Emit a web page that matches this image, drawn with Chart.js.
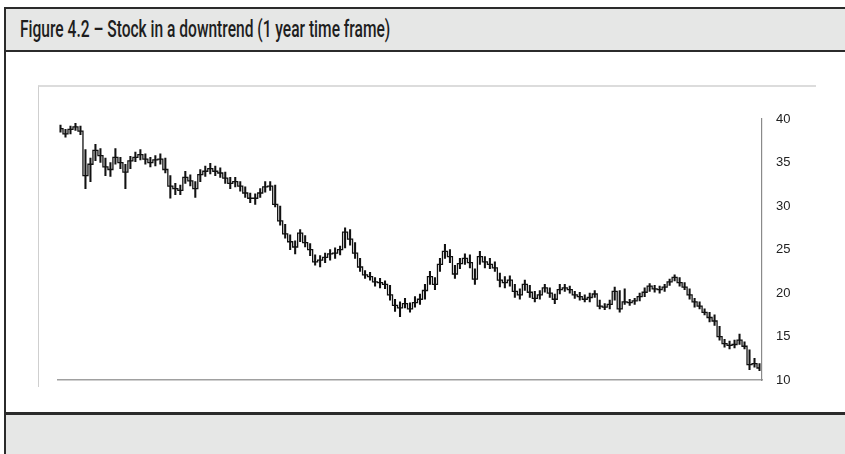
<!DOCTYPE html>
<html>
<head>
<meta charset="utf-8">
<script src="https://cdn.jsdelivr.net/npm/chart.js@4"></script>
<style>
  html, body { margin: 0; padding: 0; background: #fff; width: 845px; height: 454px; overflow: hidden; }
  #frame { position: absolute; left: 4px; top: 7px; width: 900px; height: 460px; border-left: 2px solid #2b2b2b; border-top: 2px solid #2b2b2b; }
  #head { position: absolute; left: 0; top: 0; right: 0; height: 41px; background: #e6e7e6; border-bottom: 2px solid #2b2b2b; }
  #head span { position: absolute; left: 14px; top: 6px; white-space: nowrap; transform-origin: 0 0; font-family: Roboto, "DejaVu Sans", sans-serif; font-weight: 500; font-size: 24px; color: #1e1e1e; }
  #foot { position: absolute; left: 0; top: 403px; right: 0; height: 60px; background: #e6e7e6; border-top: 3px solid #2b2b2b; }
  #box { position: absolute; left: 38px; top: 85px; width: 777px; height: 300px; border-left: 1px solid #cfcfcf; border-top: 2px solid #dcdcdc; }
  #wrap { position: absolute; left: 38px; top: 85px; width: 800px; height: 309px; }
</style>
</head>
<body>
<div id="frame">
  <div id="head"><span id="title">Figure 4.2 – Stock in a downtrend (1 year time frame)</span></div>
  <div id="foot"></div>
</div>
<div id="box"></div>
<div id="wrap"><canvas id="chart" width="800" height="309"></canvas></div>
<script>
// daily-ish bars over one year
const closes = [
  38.9, 38.3, 38.8, 39.1, 38.6, 33.5, 34.8, 36.4, 35.8, 34.5,
  34.2, 35.6, 35.0, 33.9, 35.2, 35.6, 35.9, 35.4, 35.0, 35.3,
  35.4, 34.2, 32.3, 32.0, 31.8, 33.3, 32.9, 32.0, 33.6, 34.0,
  34.3, 34.0, 33.8, 33.2, 32.6, 32.8, 32.3, 31.5, 30.9, 30.9,
  31.5, 32.2, 32.3, 30.2, 28.3, 26.8, 25.9, 25.3, 26.9, 25.8,
  25.0, 23.6, 23.8, 24.1, 24.5, 24.6, 25.0, 27.0, 26.2, 24.6,
  23.0, 22.1, 21.9, 21.3, 21.2, 21.0, 19.8, 18.6, 18.3, 18.8,
  18.2, 18.9, 19.3, 20.3, 21.9, 21.0, 23.3, 24.8, 24.2, 22.2,
  23.4, 24.0, 23.5, 21.6, 24.2, 23.6, 23.3, 22.9, 21.5, 21.2,
  21.5, 20.2, 19.8, 21.0, 20.1, 19.4, 19.8, 20.6, 20.0, 19.3,
  20.4, 20.6, 20.4, 19.8, 19.6, 19.3, 19.5, 19.9, 18.5, 18.4,
  18.7, 20.2, 18.2, 19.0, 18.9, 19.1, 19.6, 20.1, 20.8, 20.5,
  20.4, 20.7, 21.3, 21.8, 21.2, 20.7, 19.8, 19.0, 18.5, 17.8,
  17.2, 16.8, 15.0, 14.2, 14.0, 14.1, 14.6, 13.9, 11.8, 11.9,
  11.4
];
const highs = [
  39.3, 38.8, 39.2, 39.5, 39.2, 36.5, 35.5, 37.1, 36.6, 35.5,
  35.0, 36.6, 35.6, 34.8, 35.7, 36.2, 36.5, 36.0, 35.6, 35.8,
  36.0, 35.5, 33.5, 32.6, 32.4, 34.0, 33.6, 32.8, 34.2, 34.6,
  34.9, 34.6, 34.4, 33.9, 33.3, 33.3, 32.8, 32.2, 31.5, 31.4,
  32.0, 32.8, 32.8, 32.4, 30.0, 27.9, 26.7, 26.0, 27.3, 26.6,
  25.7, 24.4, 24.3, 24.6, 25.0, 25.2, 25.4, 27.5, 27.3, 25.8,
  24.0, 22.6, 22.4, 21.8, 21.7, 21.4, 20.9, 19.3, 19.0, 19.4,
  18.9, 19.6, 19.9, 21.0, 22.5, 21.8, 24.0, 25.6, 25.0, 23.2,
  24.0, 24.5, 24.4, 22.8, 24.8, 24.2, 24.0, 23.6, 22.3, 21.9,
  22.0, 21.0, 20.5, 21.5, 20.9, 20.2, 20.3, 21.0, 20.6, 19.9,
  21.0, 21.0, 20.8, 20.2, 20.1, 19.8, 20.0, 20.3, 19.2, 18.8,
  19.2, 20.7, 20.3, 20.5, 19.3, 19.4, 20.0, 20.6, 21.1, 20.9,
  20.8, 21.0, 21.6, 22.1, 21.8, 21.2, 20.5, 19.4, 19.0, 18.2,
  17.8, 17.5, 16.2, 14.7, 14.5, 14.6, 15.3, 14.4, 13.5, 12.5,
  11.9
];
const lows = [
  38.5, 37.9, 38.3, 38.7, 38.2, 32.0, 32.8, 35.2, 35.0, 33.5,
  33.4, 34.8, 34.3, 32.0, 34.3, 35.1, 35.3, 34.8, 34.5, 34.6,
  34.8, 33.8, 30.9, 31.3, 31.3, 32.6, 32.3, 31.0, 32.8, 33.4,
  33.7, 33.5, 33.3, 32.6, 32.0, 32.2, 31.7, 31.0, 30.4, 30.2,
  31.0, 31.6, 31.8, 29.9, 27.8, 26.3, 25.0, 24.5, 25.9, 25.3,
  24.3, 23.2, 23.0, 23.5, 23.8, 24.0, 24.4, 25.2, 25.5, 24.0,
  22.5, 21.7, 21.5, 20.8, 20.6, 20.5, 19.2, 17.9, 17.3, 18.3,
  17.8, 18.4, 18.7, 19.3, 21.0, 20.4, 22.5, 24.0, 23.5, 21.7,
  22.8, 23.3, 22.9, 21.0, 23.3, 22.9, 22.8, 22.5, 20.7, 20.6,
  20.8, 19.5, 19.3, 20.3, 19.5, 19.0, 19.3, 20.1, 19.5, 18.8,
  19.9, 20.2, 20.0, 19.4, 19.2, 19.0, 19.0, 19.5, 18.2, 18.1,
  18.2, 19.2, 17.8, 18.7, 18.6, 18.7, 19.1, 19.6, 20.2, 20.1,
  20.0, 20.2, 20.9, 21.4, 20.8, 20.4, 19.3, 18.4, 18.2, 17.5,
  16.7, 16.3, 14.6, 13.8, 13.6, 13.7, 14.1, 13.6, 11.2, 11.5,
  11.1
];
const yTicks = [10, 15, 20, 25, 30, 35, 40];

// squeeze the title to the condensed width of the original
const title = document.getElementById('title');
title.style.transform = 'scaleX(' + (370 / title.offsetWidth) + ')';

const labels = closes.map((c, i) => i + 1);
const ranges = lows.map((lo, i) => [lo, highs[i]]);

const ctx = document.getElementById('chart').getContext('2d');
const chart = new Chart(ctx, {
  type: 'bar',
  data: {
    labels: labels,
    datasets: [{
      type: 'line',
      data: closes,
      borderColor: '#111',
      borderWidth: 1.3,
      pointRadius: 0,
      stepped: 'middle',
      fill: false
    }, {
      data: ranges,
      backgroundColor: '#111',
      borderWidth: 0,
      barThickness: 1.4,
      borderSkipped: false
    }]
  },
  options: {
    responsive: false,
    animation: false,
    events: [],
    layout: { padding: { left: 20, top: 34, bottom: 7, right: 0 } },
    plugins: { legend: { display: false }, tooltip: { enabled: false } },
    scales: {
      x: {
        offset: true,
        grid: { display: false },
        ticks: { display: false },
        border: { color: '#a0a0a0', width: 1.5 },
        afterFit: function (axis) { axis.height = 0; }
      },
      y: {
        position: 'right',
        min: 10,
        max: 40,
        afterBuildTicks: function (axis) { axis.ticks = yTicks.map(v => ({ value: v })); },
        grid: { display: false },
        border: { color: '#8a8a8a', width: 1.2 },
        ticks: { color: '#222', padding: 6, font: { family: 'Liberation Sans, Arial, sans-serif', size: 13 } },
        afterFit: function (axis) { axis.width = 76; }
      }
    }
  }
});
</script>
</body>
</html>
